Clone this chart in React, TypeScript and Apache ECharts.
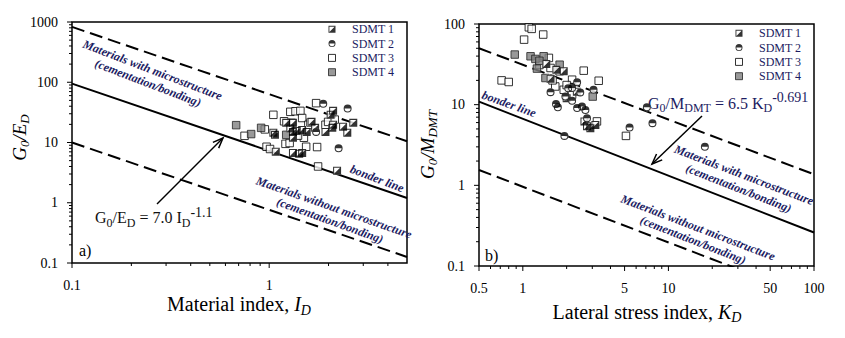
import React, { useEffect, useRef } from 'react';
import * as echarts from 'echarts';

const SERIES_NAMES = ['SDMT 1', 'SDMT 2', 'SDMT 3', 'SDMT 4'];

// ---------- panel a) : G0/ED vs ID ----------
const aSdmt1 = [[1.07, 13.4], [1.05, 14.5], [1.22, 21.2], [1.32, 21.2], [1.32, 15], [1.32, 12], [1.32, 6.7], [1.47, 6.7], [1.42, 6.5], [1.08, 7.0], [1.47, 16.2], [1.64, 22], [1.71, 17.5], [1.93, 15], [2.11, 33.5], [2.11, 19.7], [2.37, 18.2], [2.49, 14.5], [2.67, 21.2], [2.21, 3.4], [2.05, 28.8], [2.09, 17.5], [1.28, 17], [1.38, 15.5], [1.55, 15]];
const aSdmt2 = [[1.88, 44], [2.5, 36.5], [2.25, 8], [1.73, 15]];
const aSdmt3 = [[0.75, 12.9], [0.95, 16.5], [0.97, 8.5], [1.01, 7.8], [1.05, 28.8], [1.19, 22.5], [1.21, 9.5], [1.27, 9.8], [1.28, 32.3], [1.36, 33], [1.44, 33.5], [1.73, 45], [1.47, 25.5], [1.58, 19.7], [1.5, 12.0], [1.54, 8.5], [1.75, 8.4], [1.77, 4.0], [1.3, 21.2], [1.62, 21.5], [1.93, 19.7], [1.99, 22], [2.15, 24], [1.4, 13]];
const aSdmt4 = [[0.68, 19.4], [0.81, 13.8], [0.91, 17.5], [1.22, 13.4]];
const aBonderLine = [[0.1, 95], [5, 1.2]];
const aUpperLine = [[0.1, 830], [5, 10.5]];
const aLowerLine = [[0.1, 10], [5, 0.126]];
const aXMajor = [0.1, 1];
const aXLabels = ['0.1', '1'];
const aXMinor = [0.2, 0.3, 0.4, 0.5, 0.6, 0.7, 0.8, 0.9, 2, 3, 4];
const aYMajor = [0.1, 1, 10, 100, 1000];
const aYLabels = ['0.1', '1', '10', '100', '1000'];
const aYMinor = [0.2, 0.3, 0.4, 0.5, 0.6, 0.7, 0.8, 0.9, 2, 3, 4, 5, 6, 7, 8, 9, 20, 30, 40, 50, 60, 70, 80, 90, 200, 300, 400, 500, 600, 700, 800, 900];

// ---------- panel b) : G0/MDMT vs KD ----------
const bSdmt1 = [[1.91, 25.9], [1.7, 27], [1.55, 21], [2.35, 14.5], [2.65, 6.2], [2.76, 5.4], [2.91, 5.1], [3.15, 5.6], [2.0, 12], [1.45, 32]];
const bSdmt2 = [[1.55, 14.3], [1.69, 10.2], [1.74, 9.3], [1.96, 12.6], [2.18, 16.1], [2.36, 18.9], [2.48, 14.2], [2.18, 11.2], [2.36, 9.1], [2.69, 8.6], [2.76, 6.8], [3.06, 15.3], [1.93, 4.1], [5.41, 5.2], [7.11, 9.3], [7.77, 5.9], [17.8, 3.0], [2.55, 9.5], [2.05, 16]];
const bSdmt3 = [[0.715, 20], [0.8, 19.1], [1.02, 64], [1.1, 91], [1.15, 87], [1.38, 74], [1.51, 38], [1.55, 28.5], [1.79, 25.9], [1.67, 16.8], [1.91, 15.3], [2.18, 20.4], [2.62, 26.4], [3.32, 19.8], [5.11, 4.1], [3.23, 6.2], [2.18, 13.3], [1.6, 20], [2.0, 17.5], [1.3, 31]];
const bSdmt4 = [[0.88, 41.8], [1.13, 39.8], [1.22, 36.9], [1.39, 39.8], [1.25, 28], [1.43, 21.4], [1.79, 31.3], [3.02, 12.6], [1.3, 35]];
const bBonderLine = [[0.5, 10.9], [100, 0.26]];
const bUpperLine = [[0.5, 50], [100, 1.37]];
const bLowerLine = [[0.5, 1.55], [100, 0.04]];
const bXMajor = [0.5, 1, 5, 10, 50, 100];
const bXLabels = ['0.5', '1', '5', '10', '50', '100'];
const bXMinor = [0.6, 0.7, 0.8, 0.9, 2, 3, 4, 6, 7, 8, 9, 20, 30, 40, 60, 70, 80, 90];
const bYMajor = [0.1, 1, 10, 100];
const bYLabels = ['0.1', '1', '10', '100'];
const bYMinor = [0.2, 0.3, 0.4, 0.5, 0.6, 0.7, 0.8, 0.9, 2, 3, 4, 5, 6, 7, 8, 9, 20, 30, 40, 50, 60, 70, 80, 90];

const SERIF = '"Liberation Serif", "Times New Roman", serif';
const NAVY = '#1c1c62';

const SYM1 = 'path://M0,0H10V10H0Z M1.3,1.3V8.7H8.7V1.3Z M8.7,1.3L8.7,8.7L1.3,8.7Z';
const SYM2 = 'path://M0,5A5,5 0 1 1 10,5A5,5 0 1 1 0,5Z M1.3,5A3.7,3.7 0 1 0 8.7,5A3.7,3.7 0 1 0 1.3,5Z M0,5A5,5 0 0 1 10,5Z';
const SYMSQ = 'path://M0,0H10V10H0Z';

function tickSeries(grid: number, axis: 'x' | 'y', major: number[], labels: string[], minor: number[], other: number) {
  const data: number[][] = [];
  major.forEach((v, i) => data.push(axis === 'x' ? [v, other, 1, i] : [other, v, 1, i]));
  minor.forEach((v) => data.push(axis === 'x' ? [v, other, 0, -1] : [other, v, 0, -1]));
  return {
    type: 'custom',
    xAxisIndex: grid,
    yAxisIndex: grid,
    silent: true,
    clip: false,
    z: 10,
    data,
    renderItem: (params: any, api: any) => {
      const p = api.coord([api.value(0), api.value(1)]);
      const m = api.value(2) === 1;
      const li = api.value(3);
      const len = m ? 5 : 3;
      const children: any[] = [];
      if (axis === 'x') {
        children.push({ type: 'line', shape: { x1: p[0], y1: p[1], x2: p[0], y2: p[1] + len }, style: { stroke: '#000', lineWidth: 1 } });
        if (m && li >= 0) children.push({ type: 'text', x: p[0], y: p[1] + 22, style: { text: labels[li], fill: '#000', fontSize: 14, fontFamily: SERIF, align: 'center', verticalAlign: 'middle', textAlign: 'center', textVerticalAlign: 'middle' } });
      } else {
        children.push({ type: 'line', shape: { x1: p[0], y1: p[1], x2: p[0] - len, y2: p[1] }, style: { stroke: '#000', lineWidth: 1 } });
        if (m && li >= 0) children.push({ type: 'text', x: p[0] - 14, y: p[1], style: { text: labels[li], fill: '#000', fontSize: 14, fontFamily: SERIF, align: 'right', verticalAlign: 'middle', textAlign: 'right', textVerticalAlign: 'middle' } });
      }
      return { type: 'group', children };
    },
  };
}

function scatterSet(grid: number, s1: number[][], s2: number[][], s3: number[][], s4: number[][]) {
  const size = 8;
  const common = { type: 'scatter', xAxisIndex: grid, yAxisIndex: grid, symbolSize: size, silent: true };
  return [
    { ...common, name: 'SDMT 3', data: s3, symbol: SYMSQ, symbolSize: 7.5, itemStyle: { color: '#fff', borderColor: '#000', borderWidth: 1 } },
    { ...common, name: 'SDMT 4', data: s4, symbol: SYMSQ, symbolSize: 7.5, itemStyle: { color: '#808080', borderColor: '#222', borderWidth: 1 } },
    { ...common, name: 'base1_' + grid, data: s1, symbol: 'rect', itemStyle: { color: '#fff' } },
    { ...common, name: 'SDMT 1', data: s1, symbol: SYM1, itemStyle: { color: '#000', borderWidth: 0 } },
    { ...common, name: 'base2_' + grid, data: s2, symbol: 'circle', itemStyle: { color: '#fff' } },
    { ...common, name: 'SDMT 2', data: s2, symbol: SYM2, itemStyle: { color: '#000', borderWidth: 0 } },
  ];
}

function lineSet(grid: number, solid: number[][], upper: number[][], lower: number[][]) {
  const common = { type: 'line', xAxisIndex: grid, yAxisIndex: grid, symbol: 'none', silent: true, z: 1 };
  return [
    { ...common, name: 'bl' + grid, data: solid, lineStyle: { color: '#000', width: 2 } },
    { ...common, name: 'ul' + grid, data: upper, lineStyle: { color: '#000', width: 2, type: [13, 6] } },
    { ...common, name: 'll' + grid, data: lower, lineStyle: { color: '#000', width: 2, type: [13, 6] } },
  ];
}

function rotText(text: string, x: number, y: number, deg: number) {
  return {
    type: 'text', x, y, rotation: (-deg * Math.PI) / 180, silent: true,
    style: { text, fill: NAVY, font: `italic bold 12px ${SERIF}`, align: 'center', verticalAlign: 'middle', textAlign: 'center', textVerticalAlign: 'middle' },
  };
}

function arrow(x1: number, y1: number, x2: number, y2: number) {
  const ang = Math.atan2(y2 - y1, x2 - x1);
  const L = 11;
  const h = 0.38;
  const p1 = [x2 - L * Math.cos(ang - h), y2 - L * Math.sin(ang - h)];
  const p2 = [x2 - L * Math.cos(ang + h), y2 - L * Math.sin(ang + h)];
  return [
    { type: 'line', silent: true, shape: { x1, y1, x2, y2 }, style: { stroke: '#000', lineWidth: 1.5 } },
    { type: 'polyline', silent: true, shape: { points: [p1, [x2, y2], p2] }, style: { stroke: '#000', lineWidth: 1.5, fill: 'none' } },
  ];
}

function richLabel(text: string, x: number, y: number, size: number, subSize: number, supSize: number, align: string, rotation: number, color: string, italicMain: boolean) {
  return {
    type: 'text', x, y, rotation, silent: true,
    style: {
      text,
      fill: color,
      align, verticalAlign: 'middle', textAlign: align, textVerticalAlign: 'middle',
      fontFamily: SERIF, fontSize: size,
      rich: {
        m: { fontSize: size, fontFamily: SERIF, fontStyle: italicMain ? 'italic' : 'normal', fill: color, color },
        i: { fontSize: size, fontFamily: SERIF, fontStyle: 'italic', fill: color, color },
        s: { fontSize: subSize, fontFamily: SERIF, fontStyle: italicMain ? 'italic' : 'normal', padding: [Math.round(size * 0.6), 0, 0, 0], fill: color, color },
        si: { fontSize: subSize, fontFamily: SERIF, fontStyle: 'italic', padding: [Math.round(size * 0.6), 0, 0, 0], fill: color, color },
        p: { fontSize: supSize, fontFamily: SERIF, padding: [0, 0, Math.round(size * 0.7), 0], fill: color, color },
      },
    },
  };
}

function legendFor(left: number, top: number) {
  return {
    orient: 'vertical', left, top, padding: 0, itemWidth: 30, itemHeight: 7, itemGap: 0.3,
    selectedMode: false, data: SERIES_NAMES,
    itemStyle: { borderWidth: 1 },
    textStyle: { fontFamily: SERIF, fontSize: 12, color: NAVY, lineHeight: 14 },
  };
}

export default function App() {
  const ref = useRef<HTMLDivElement>(null);
  useEffect(() => {
    if (!ref.current) return;
    const chart = echarts.init(ref.current, undefined, { renderer: 'svg' });
    const hidden = { axisLine: { show: false }, axisTick: { show: false }, axisLabel: { show: false }, splitLine: { show: false } };
    const option: any = {
      animation: false,
      backgroundColor: '#fff',
      grid: [
        { left: 72, top: 22, width: 335, height: 241, show: true, borderColor: '#000', borderWidth: 1.5, backgroundColor: 'transparent' },
        { left: 479, top: 24, width: 335, height: 242, show: true, borderColor: '#000', borderWidth: 1.5, backgroundColor: 'transparent' },
      ],
      xAxis: [
        { type: 'log', logBase: 10, gridIndex: 0, min: 0.1, max: 5, ...hidden },
        { type: 'log', logBase: 10, gridIndex: 1, min: 0.5, max: 100, ...hidden },
      ],
      yAxis: [
        { type: 'log', logBase: 10, gridIndex: 0, min: 0.1, max: 1000, ...hidden },
        { type: 'log', logBase: 10, gridIndex: 1, min: 0.1, max: 100, ...hidden },
      ],
      legend: [legendFor(328, 22.3), legendFor(735, 26.3)],
      series: [
        ...lineSet(0, aBonderLine, aUpperLine, aLowerLine),
        ...lineSet(1, bBonderLine, bUpperLine, bLowerLine),
        ...scatterSet(0, aSdmt1, aSdmt2, aSdmt3, aSdmt4),
        ...scatterSet(1, bSdmt1, bSdmt2, bSdmt3, bSdmt4),
        tickSeries(0, 'x', aXMajor, aXLabels, aXMinor, 0.1),
        tickSeries(0, 'y', aYMajor, aYLabels, aYMinor, 0.1),
        tickSeries(1, 'x', bXMajor, bXLabels, bXMinor, 0.1),
        tickSeries(1, 'y', bYMajor, bYLabels, bYMinor, 0.5),
      ],
      graphic: [
        // panel a
        rotText('Materials with microstructure', 152.5, 70, 21),
        rotText('(cementation/bonding)', 148, 83, 21),
        rotText('bonder line', 377, 178.5, 21),
        rotText('Materials without microstructure', 334, 207.5, 19.5),
        rotText('(cementation/bonding)', 330, 220.5, 20),
        richLabel('{m|G}{s|0}{m|/E}{s|D}{m| = 7.0 I}{s|D}{p|-1.1}', 95, 217.5, 16, 12, 14, 'left', 0, '#111', false),
        ...arrow(157, 204, 223, 138),
        { type: 'text', x: 79, y: 250, silent: true, style: { text: 'a)', fill: '#000', font: `16px ${SERIF}`, align: 'left', verticalAlign: 'middle', textAlign: 'left', textVerticalAlign: 'middle' } },
        richLabel('{m|Material index, }{i|I}{si|D}', 239, 304, 20, 14, 14, 'center', 0, '#000', false),
        richLabel('{m|G}{s|0}{m|/E}{s|D}', 19, 137.5, 19, 13, 13, 'center', Math.PI / 2, '#000', true),
        // panel b
        rotText('bonder line', 509, 104, 19.5),
        rotText('Materials with microstructure', 744, 175, 21),
        rotText('(cementation/bonding)', 738.7, 188.3, 21.5),
        rotText('Materials without microstructure', 698, 227.5, 21),
        rotText('(cementation/bonding)', 693, 240, 21.5),
        richLabel('{m|G}{s|0}{m|/M}{s|DMT}{m| = 6.5 K}{s|D}{p|-0.691}', 648, 103, 16, 12, 14, 'left', 0, NAVY, false),
        ...arrow(702, 116, 652, 164),
        { type: 'text', x: 485, y: 255, silent: true, style: { text: 'b)', fill: '#000', font: `16px ${SERIF}`, align: 'left', verticalAlign: 'middle', textAlign: 'left', textVerticalAlign: 'middle' } },
        richLabel('{m|Lateral stress index, }{i|K}{si|D}', 647, 311.5, 20, 14, 14, 'center', 0, '#000', false),
        richLabel('{m|G}{s|0}{m|/M}{s|DMT}', 427, 144.5, 19, 13, 13, 'center', Math.PI / 2, '#000', true),
      ],
    };
    chart.setOption(option);
    return () => chart.dispose();
  }, []);
  return <div ref={ref} style={{ position: 'fixed', left: 0, top: 0, width: 845, height: 338, background: '#fff' }} />;
}
